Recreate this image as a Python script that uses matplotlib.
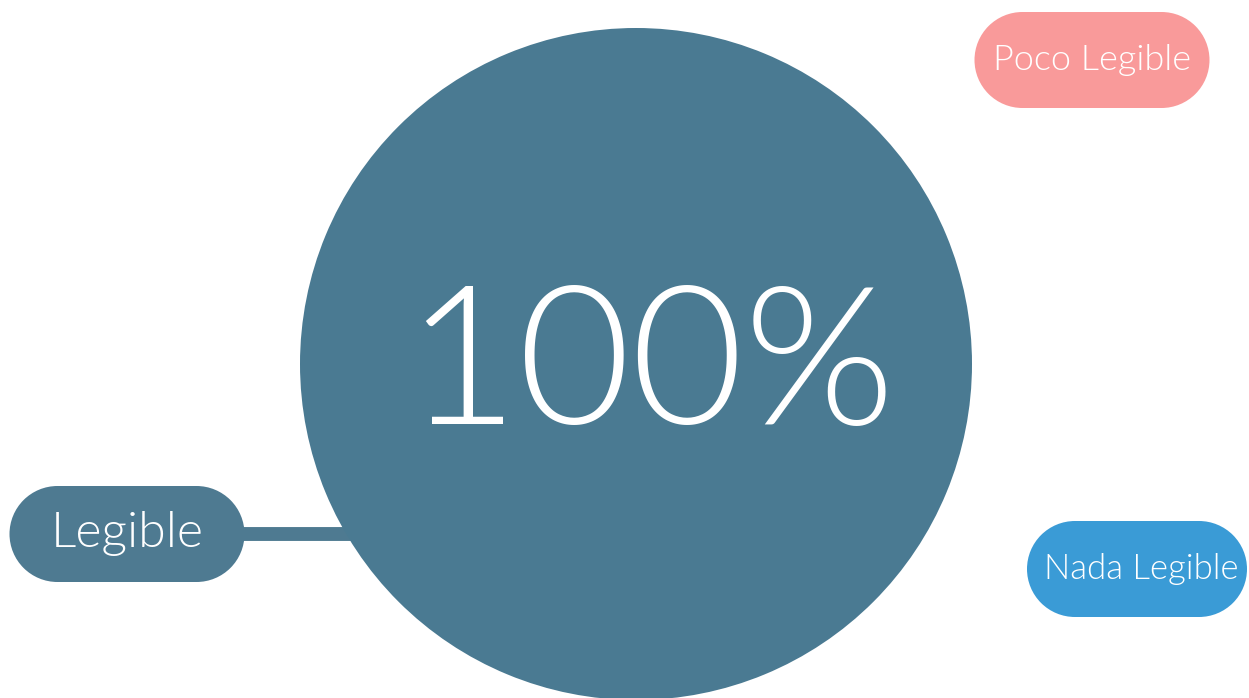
import matplotlib
matplotlib.use('Agg')
import matplotlib.pyplot as plt
from matplotlib.patches import Rectangle, Circle

# readability share shown in the circle
categories = ['Legible', 'Poco Legible', 'Nada Legible']
shares = [100, 0, 0]
center_label = '100%'

circle_color = '#4a7a92'
badge_colors = ['#4e7a91', '#f99a9a', '#3a9bd6']

W, H = 1249, 698
fig = plt.figure(figsize=(W / 100, H / 100), dpi=100)
ax = fig.add_axes([0, 0, 1, 1])

# pie drawn in pixel-like data units
cx, cy, r = 636, 364, 336
wedges, _ = ax.pie(shares, colors=[circle_color] + badge_colors[1:], center=(cx, cy),
                   radius=r, startangle=90, counterclock=False, frame=True,
                   wedgeprops=dict(linewidth=0))
for w in wedges:
    w.set_zorder(3)

ax.text(650, 370, center_label, color='white', fontsize=140, family='Lato',
        fontweight=300, ha='center', va='center', zorder=5)


def pill(x, y, w, h, color):
    rad = h / 2
    ax.add_patch(Rectangle((x - w / 2 + rad, y - rad), w - h, h,
                           facecolor=color, edgecolor='none', zorder=4))
    for ex in (x - w / 2 + rad, x + w / 2 - rad):
        ax.add_patch(Circle((ex, y), rad, facecolor=color, edgecolor='none', zorder=4))


# badges: (center x, center y, width, height, font size, text x)
badges = [
    (127, 534, 235, 96, 36, 127),
    (1092, 60, 235, 96, 26, 1092),
    (1137, 569, 220, 96, 25, 1141),
]
for name, color, (bx, by, bw, bh, fs, tx) in zip(categories, badge_colors, badges):
    pill(bx, by, bw, bh, color)
    ax.text(tx, by, name, color='white', fontsize=fs, family='Lato',
            fontweight=300, ha='center', va='center', zorder=5)

# connector from the Legible badge to the circle
ax.plot([230, 360], [534, 534], color=badge_colors[0], linewidth=10,
        solid_capstyle='butt', zorder=2)

ax.set_xlim(0, W)
ax.set_ylim(H, 0)
ax.set_aspect('equal')
ax.axis('off')

fig.savefig('out.png', dpi=100, facecolor='white')
